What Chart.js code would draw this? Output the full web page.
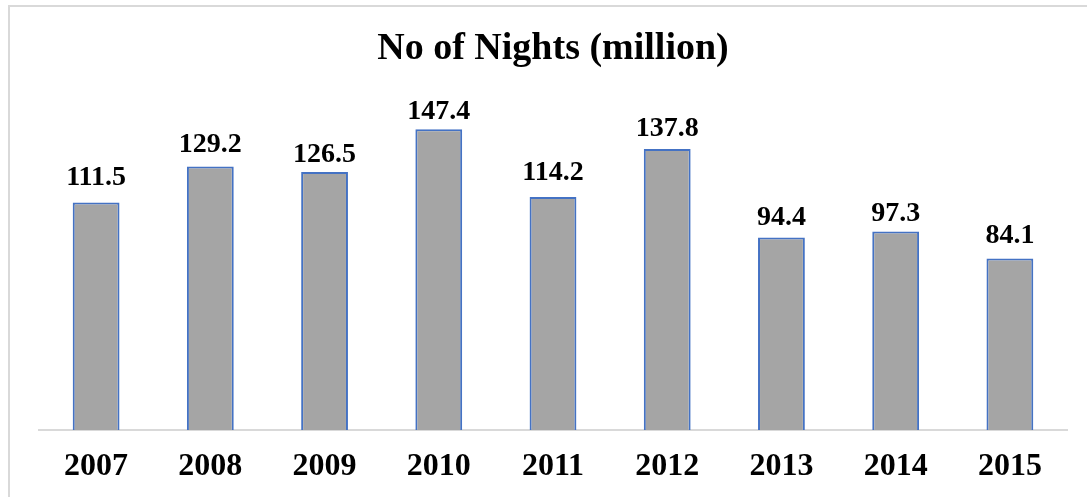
<!DOCTYPE html>
<html>
<head>
<meta charset="utf-8">
<title>No of Nights (million)</title>
<script src="https://cdn.jsdelivr.net/npm/chart.js@4/dist/chart.umd.min.js"></script>
<style>
    html, body {
        margin: 0;
        padding: 0;
        background: #ffffff;
        overflow: hidden;
    }
    .frame {
        position: absolute;
        left: 8px;
        top: 5px;
        width: 1200px;
        height: 600px;
        border-left: 2px solid #d9d9d9;
        border-top: 2px solid #d9d9d9;
    }
    #nightsChart {
        position: absolute;
        left: 0;
        top: 0;
    }
</style>
</head>
<body>
<div class="frame"></div>
<canvas id="nightsChart" width="1087" height="497"></canvas>
<script>
const years = ['2007', '2008', '2009', '2010', '2011', '2012', '2013', '2014', '2015'];
const nights = [111.5, 129.2, 126.5, 147.4, 114.2, 137.8, 94.4, 97.3, 84.1];

// space (px) between each bar top and its value label
const labelGap = [18, 14, 10, 10, 17, 13, 12, 11, 15];

const serif = "'Liberation Serif', 'Times New Roman', serif";

// Writes the value above every bar
const valueLabels = {
    id: 'valueLabels',
    afterDatasetsDraw(chart) {
        const ctx = chart.ctx;
        const meta = chart.getDatasetMeta(0);
        ctx.save();
        ctx.font = 'bold 28px ' + serif;
        ctx.fillStyle = '#000000';
        ctx.textAlign = 'center';
        ctx.textBaseline = 'alphabetic';
        meta.data.forEach((bar, i) => {
            const value = chart.data.datasets[0].data[i];
            ctx.fillText(value.toFixed(1), bar.x, bar.y - labelGap[i]);
        });
        ctx.restore();
    }
};

document.addEventListener('DOMContentLoaded', () => {
    const ctx = document.getElementById('nightsChart').getContext('2d');

    new Chart(ctx, {
        type: 'bar',
        data: {
            labels: years,
            datasets: [{
                data: nights,
                backgroundColor: '#a5a5a5',
                borderColor: '#4472c4',
                borderWidth: 2,
                barPercentage: 0.41,
                categoryPercentage: 1.0
            }]
        },
        options: {
            responsive: false,
            animation: false,
            layout: {
                padding: { left: 39, right: 20, top: 0, bottom: 11 }
            },
            plugins: {
                legend: { display: false },
                tooltip: { enabled: false },
                title: {
                    display: true,
                    text: 'No of Nights (million)',
                    color: '#000000',
                    font: { family: serif, size: 38, weight: 'bold', lineHeight: 1.2 },
                    padding: { top: 26, bottom: 32 }
                }
            },
            scales: {
                x: {
                    grid: { display: false, drawTicks: false },
                    border: { display: true, color: '#d9d9d9', width: 2 },
                    ticks: {
                        color: '#000000',
                        padding: 18,
                        font: { family: serif, size: 32, weight: 'bold', lineHeight: 1.2 }
                    },
                    // keep the category band a fixed height under the plot
                    afterFit(scale) {
                        scale.height = 56;
                    }
                },
                y: {
                    display: false,
                    min: 0,
                    max: 160
                }
            }
        },
        plugins: [valueLabels]
    });
});
</script>
</body>
</html>
